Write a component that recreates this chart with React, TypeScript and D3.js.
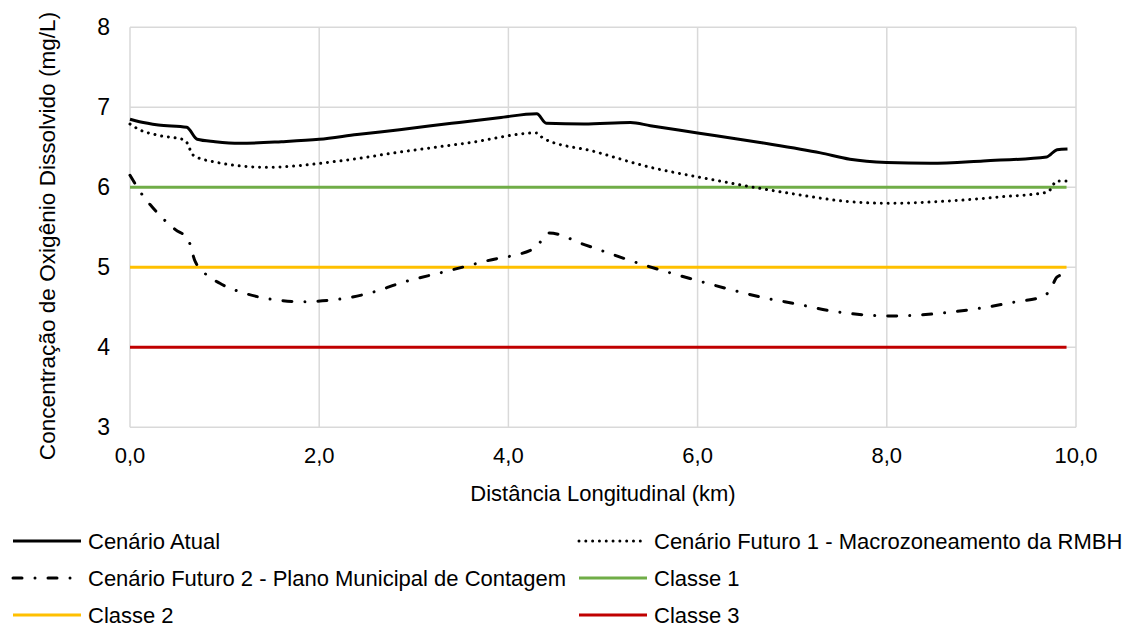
import React from "react";
import * as d3 from "d3";

type P = [number, number];

const atual: P[] = [
  [0, 6.85], [0.1, 6.82], [0.3, 6.78], [0.6, 6.75], [0.71, 6.6], [0.9, 6.57], [1.16, 6.55],
  [1.6, 6.57], [2.0, 6.6], [2.4, 6.66], [2.85, 6.72], [3.4, 6.8], [3.9, 6.87], [4.3, 6.92],
  [4.4, 6.8], [4.8, 6.79], [5.29, 6.81], [5.5, 6.77], [6.0, 6.68], [6.66, 6.56], [7.3, 6.43],
  [7.61, 6.35], [8.0, 6.31], [8.46, 6.3], [9.02, 6.33], [9.69, 6.38], [9.8, 6.47], [9.91, 6.48],
];

const futuro1: P[] = [
  [0, 6.79], [0.1, 6.72], [0.3, 6.65], [0.58, 6.59], [0.67, 6.4], [0.88, 6.32], [1.44, 6.25],
  [2.22, 6.33], [2.85, 6.44], [3.6, 6.56], [4.3, 6.68], [4.37, 6.61], [4.9, 6.45], [5.5, 6.25],
  [6.0, 6.13], [6.5, 6.02], [7.0, 5.92], [7.61, 5.82], [8.0, 5.8], [8.67, 5.83], [9.2, 5.88],
  [9.7, 5.94], [9.8, 6.08], [9.9, 6.08],
];

const futuro2: P[] = [
  [0, 6.15], [0.14, 5.89], [0.23, 5.76], [0.48, 5.47], [0.61, 5.36], [0.69, 5.07], [0.77, 4.95],
  [0.95, 4.8], [1.2, 4.68], [1.5, 4.6], [1.8, 4.57], [2.2, 4.6], [2.6, 4.7], [2.85, 4.8],
  [3.38, 4.96], [3.77, 5.08], [4.28, 5.24], [4.43, 5.43], [4.81, 5.28], [5.43, 5.03],
  [5.92, 4.86], [6.29, 4.74], [6.66, 4.63], [7.05, 4.54], [7.44, 4.45], [7.82, 4.4], [8.03, 4.39],
  [8.6, 4.43], [8.99, 4.49], [9.37, 4.57], [9.64, 4.63], [9.73, 4.72], [9.8, 4.88], [9.9, 4.92],
];

const classeX: number[] = [0, 9.9];
const classe1 = 6;
const classe2 = 5;
const classe3 = 4;

const xTicks: number[] = [0, 2, 4, 6, 8, 10];
const yTicks: number[] = [3, 4, 5, 6, 7, 8];

const FONT = "'Liberation Sans', Arial, sans-serif";
const FS = 22;

export default function App() {
  const L = 130, R = 1076, T = 27.3, B = 427.3;
  const x = d3.scaleLinear().domain([0, 10]).range([L, R]);
  const y = d3.scaleLinear().domain([3, 8]).range([B, T]);
  const line = d3
    .line<P>()
    .x((d) => x(d[0]))
    .y((d) => y(d[1]))
    .curve(d3.curveMonotoneX);
  const hline = (v: number) => line(classeX.map((cx) => [cx, v] as P)) || "";

  const dotted = { strokeDasharray: "0.01 6.8", strokeLinecap: "round" as const };
  const dashdot = { strokeDasharray: "9 13 0.01 13", strokeLinecap: "round" as const };

  const legend = [
    { label: "Cenário Atual", color: "#000", style: {}, x0: 13, tx: 88, y: 541 },
    { label: "Cenário Futuro 1 - Macrozoneamento da RMBH", color: "#000", style: { strokeDasharray: "0.01 6.8", strokeLinecap: "round" }, x0: 579, tx: 654, y: 541 },
    { label: "Cenário Futuro 2 - Plano Municipal de Contagem", color: "#000", style: { strokeDasharray: "9 13 0.01 13", strokeLinecap: "round" }, x0: 13, tx: 88, y: 578 },
    { label: "Classe 1", color: "#70ad47", style: {}, x0: 579, tx: 654, y: 578 },
    { label: "Classe 2", color: "#ffc000", style: {}, x0: 13, tx: 88, y: 615 },
    { label: "Classe 3", color: "#c00000", style: {}, x0: 579, tx: 654, y: 615 },
  ];

  return (
    <svg
      width={1126}
      height={631}
      style={{ position: "absolute", left: 0, top: 0, background: "#fff" }}
      fontFamily={FONT}
    >
      <rect x={0} y={0} width={1126} height={631} fill="#fff" />
      {/* grid */}
      {yTicks.map((t) => (
        <line key={"gy" + t} x1={L} x2={R} y1={y(t)} y2={y(t)} stroke="#d9d9d9" strokeWidth={1.5} />
      ))}
      {xTicks.map((t) => (
        <line key={"gx" + t} x1={x(t)} x2={x(t)} y1={T} y2={B} stroke="#d9d9d9" strokeWidth={1.5} />
      ))}
      {/* tick labels */}
      {yTicks.map((t) => (
        <text key={"ty" + t} x={110} y={y(t)} textAnchor="end" dominantBaseline="central" fontSize={23} fill="#000">
          {t}
        </text>
      ))}
      {xTicks.map((t) => (
        <text key={"tx" + t} x={x(t)} y={463} textAnchor="middle" fontSize={FS} fill="#000">
          {d3.format(".1f")(t).replace(".", ",")}
        </text>
      ))}
      <text x={(L + R) / 2} y={501} textAnchor="middle" fontSize={FS} fill="#000">
        Distância Longitudinal (km)
      </text>
      <text
        transform={`translate(55,236) rotate(-90)`}
        textAnchor="middle"
        fontSize={22.6}
        fill="#000"
      >
        Concentração de Oxigênio Dissolvido (mg/L)
      </text>
      {/* class lines */}
      <path d={hline(classe1)} stroke="#70ad47" strokeWidth={3} fill="none" />
      <path d={hline(classe2)} stroke="#ffc000" strokeWidth={3} fill="none" />
      <path d={hline(classe3)} stroke="#c00000" strokeWidth={3} fill="none" />
      {/* series */}
      <path d={line(atual) || ""} stroke="#000" strokeWidth={3} fill="none" strokeLinejoin="round" />
      <path d={line(futuro1) || ""} stroke="#000" strokeWidth={3} fill="none" {...dotted} />
      <path d={line(futuro2) || ""} stroke="#000" strokeWidth={3} fill="none" {...dashdot} />
      {/* legend */}
      {legend.map((l) => (
        <g key={l.label}>
          <line x1={l.x0} x2={l.x0 + 68} y1={l.y} y2={l.y} stroke={l.color} strokeWidth={3} style={l.style as any} />
          <text x={l.tx} y={l.y} dominantBaseline="central" fontSize={FS} fill="#000">
            {l.label}
          </text>
        </g>
      ))}
    </svg>
  );
}
